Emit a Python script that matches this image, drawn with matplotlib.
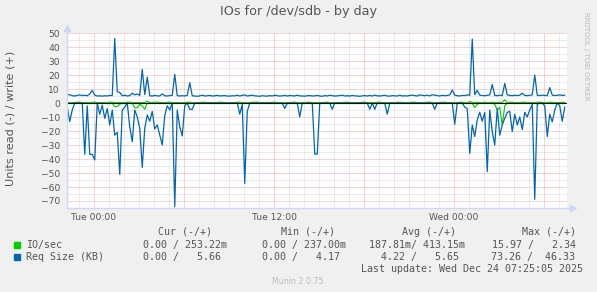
import numpy as np
import pandas as pd
import matplotlib.pyplot as plt

# muestras cada 10 minutos
times = pd.date_range("2025-12-22 22:13", periods=200, freq="10min")

# Req Size (KB) escritura (+)
write_size = [
    5.5, 6.0, 5.2, 5.0, 5.4, 5.8, 5.3, 5.5, 5.2, 6.5, 9.0, 5.6, 5.0, 5.1, 4.9, 5.2, 5.0, 5.4, 5.3, 46.0,
    8.0, 7.5, 5.2, 5.6, 5.0, 5.3, 7.0, 5.8, 6.5, 5.4, 24.0, 6.0, 18.5, 5.2, 5.0, 5.4, 5.1, 5.0, 6.5, 5.2,
    5.0, 5.3, 5.5, 20.5, 5.3, 5.0, 5.2, 5.1, 5.4, 14.5, 5.2, 5.0, 4.8, 5.1, 5.6, 5.0, 5.2, 5.4, 5.0, 5.1,
    5.5, 5.0, 5.2, 5.3, 5.0, 4.9, 5.2, 5.1, 5.6, 5.0, 5.4, 5.8, 5.0, 5.3, 5.6, 5.1, 5.0, 4.8, 5.2, 5.0,
    4.9, 5.3, 5.0, 5.6, 5.2, 5.0, 5.1, 5.4, 5.0, 5.3, 5.2, 5.0, 5.6, 5.1, 5.0, 4.9, 5.2, 5.3, 5.0, 5.1,
    5.4, 5.0, 4.8, 5.3, 5.0, 5.6, 5.2, 5.0, 5.1, 5.3, 5.6, 5.0, 5.2, 5.0, 5.4, 5.1, 5.0, 4.8, 5.1, 5.3,
    5.0, 5.4, 5.0, 5.6, 5.1, 5.0, 5.2, 5.5, 5.0, 4.9, 5.3, 5.1, 5.0, 5.6, 5.0, 5.2, 5.0, 5.4, 5.6, 5.3,
    5.0, 5.8, 5.5, 5.2, 5.6, 5.1, 5.9, 5.6, 5.3, 5.0, 5.5, 5.2, 5.4, 5.8, 9.3, 5.6, 5.2, 5.0, 5.4, 5.3,
    5.8, 5.5, 45.7, 6.0, 9.0, 5.6, 5.4, 5.2, 5.5, 5.8, 13.3, 5.4, 5.2, 5.6, 5.3, 14.0, 5.8, 5.4, 5.2, 5.5,
    5.3, 5.6, 7.0, 5.4, 5.2, 5.5, 5.8, 20.0, 5.5, 5.3, 5.6, 5.4, 5.2, 11.0, 5.6, 5.3, 5.5, 5.8, 5.4, 5.6,
]

# Req Size (KB) lectura (-)
read_size = [
    -3.0, -13.3, -5.0, 0, 0, 0, 0, -36.7, -2.0, -36.7, -36.7, -40.7, 0, -8.0, -1.5, -11.0, -4.0, -15.7, -5.0, -23.0,
    -21.0, -51.0, -5.0, -3.0, 0, -17.0, -27.6, -5.0, -10.0, -18.0, -46.0, -18.0, -8.6, -13.0, -6.0, -18.6, -15.7, -23.0, -30.0, -9.0,
    -2.0, -5.0, 0, -74.0, -5.0, -17.0, -23.6, -2.0, 0, -4.5, -4.5, 0, 0, 0, 0, 0, 0, 0, 0, 0,
    0, 0, 0, 0, 0, 0, 0, 0, 0, -8.0, -1.0, -57.4, -6.0, 0, 0, 0, 0, 0, 0, 0,
    0, 0, 0, 0, 0, 0, 0, -4.0, 0, 0, 0, 0, 0, -10.0, 0, 0, 0, 0, 0, -36.5,
    -36.5, 0, 0, 0, 0, 0, -4.5, 0, 0, 0, 0, 0, 0, 0, 0, 0, 0, 0, 0, 0,
    0, -4.5, 0, -4.5, 0, 0, 0, 0, -8.0, 0, 0, 0, 0, 0, 0, 0, 0, 0, 0, 0,
    0, 0, 0, 0, 0, 0, 0, -4.5, 0, 0, 0, 0, 0, 0, 0, -15.2, 0, 0, 0, -3.0,
    -4.0, -36.0, -15.7, -24.0, -12.0, -6.7, -13.0, -6.7, -49.0, -5.0, -20.5, -30.0, -4.0, -23.0, -15.7, -11.0, -6.7, -6.0, -20.5, -8.0,
    -15.7, -10.0, -19.0, -6.7, -10.0, -5.0, -1.0, -68.8, -1.0, 0, 0, -2.0, -24.0, -8.0, -13.5, -5.0, 0, -2.0, -13.0, -3.0,
]

# IO/sec escritura (+)
write_io = [
    0.3, 0.3, 0.25, 0.3, 0.55, 0.6, 0.3, 0.25, 0.3, 0.3, 0.55, 0.6, 0.3, 0.25, 0.3, 0.3, 0.25, 0.55, 0.6, 0.3,
    0.3, 0.25, 0.3, 0.3, 0.55, 0.6, 0.3, 0.25, 0.3, 0.3, 0.25, 0.3, 1.4, 0.3, 0.25, 0.55, 0.6, 0.3, 0.25, 0.3,
    0.55, 0.6, 0.3, 0.25, 0.3, 0.3, 0.25, 0.3, 0.55, 0.6, 0.3, 0.25, 0.3, 0.3, 0.55, 0.6, 0.25, 0.3, 0.3, 0.25,
    0.3, 0.55, 0.6, 0.3, 0.25, 0.3, 0.3, 0.25, 0.55, 0.6, 0.3, 0.25, 0.3, 0.3, 0.55, 0.6, 0.6, 0.3, 0.25, 0.3,
    0.3, 0.25, 0.55, 0.6, 0.3, 0.25, 0.3, 0.3, 0.25, 0.3, 0.55, 0.6, 0.3, 0.25, 0.3, 0.3, 0.55, 0.6, 0.3, 0.25,
    0.3, 0.3, 0.25, 0.55, 0.6, 0.3, 0.25, 0.3, 0.3, 0.25, 0.3, 0.55, 0.6, 0.3, 0.25, 0.3, 0.3, 0.25, 0.55, 0.6,
    0.3, 0.25, 0.3, 0.3, 0.55, 0.6, 0.3, 0.25, 0.3, 0.3, 0.25, 0.3, 0.55, 0.6, 0.3, 0.25, 0.3, 0.3, 0.55, 0.6,
    0.25, 0.3, 0.3, 0.25, 0.55, 0.6, 0.3, 0.25, 0.3, 0.3, 0.55, 0.6, 0.3, 0.25, 0.3, 0.3, 0.25, 0.55, 0.6, 0.3,
    0.3, 1.0, 0.5, 0.3, 0.6, 0.3, 0.25, 0.55, 0.3, 0.3, 0.6, 0.3, 0.25, 0.55, 0.3, 2.34, 0.3, 0.55, 0.6, 0.3,
    0.25, 0.3, 0.55, 0.6, 0.3, 0.25, 0.3, 0.3, 0.55, 0.6, 0.3, 0.25, 0.3, 0.55, 0.6, 0.3, 0.25, 0.3, 0.55, 0.3,
]

# IO/sec lectura (-)
read_io = [
    0, 0, 0, 0, 0, 0, 0, 0, 0, 0, 0, 0, 0, 0, 0, 0, 0, 0, 0, -2.6,
    -2.6, -1.0, 0, 0, 0, 0, 0, -3.4, -3.4, -1.0, -2.0, -4.5, 0, 0, 0, 0, 0, 0, 0, 0,
    0, 0, 0, 0, 0, 0, 0, 0, 0, 0, 0, 0, 0, 0, 0, 0, 0, 0, 0, 0,
    0, 0, 0, 0, 0, 0, 0, 0, 0, 0, 0, 0, 0, 0, 0, 0, 0, 0, 0, 0,
    0, 0, 0, 0, 0, 0, 0, 0, 0, 0, 0, 0, 0, 0, 0, 0, 0, 0, 0, 0,
    0, 0, 0, 0, 0, 0, 0, 0, 0, 0, 0, 0, 0, 0, 0, 0, 0, 0, 0, 0,
    0, 0, 0, 0, 0, 0, 0, 0, 0, 0, 0, 0, 0, 0, 0, 0, 0, 0, 0, 0,
    0, 0, 0, 0, 0, 0, 0, 0, 0, 0, 0, 0, 0, 0, 0, 0, 0, 0, 0, 0,
    0, 0, 0, -3.3, -1.0, 0, 0, 0, 0, 0, 0, -1.0, -5.0, -3.0, -15.97, -2.0, 0, 0, 0, 0,
    0, 0, 0, 0, 0, 0, 0, 0, 0, 0, 0, 0, 0, 0, 0, 0, 0, 0, 0, 0,
]

tick_times = ["2025-12-23 00:00", "2025-12-23 12:00", "2025-12-24 00:00"]
tick_labels = ["Tue 00:00", "Tue 12:00", "Wed 00:00"]

columnas = ["Cur (-/+)", "Min (-/+)", "Avg (-/+)", "Max (-/+)"]
io_vals = ["0.00 / 253.22m", "0.00 / 237.00m", "187.81m/ 413.15m", "15.97 /   2.34"]
size_vals = ["0.00 /   5.66", "0.00 /   4.17", "4.22 /   5.65", "73.26 /  46.33"]

verde = "#00CC00"
azul = "#0066B3"
gris = "#555555"
W, H = 597, 292


def px(x, y):
    return x / W, 1 - y / H


fig = plt.figure(figsize=(W / 100, H / 100), dpi=100, facecolor="#F0F0F0")
ax = fig.add_axes([67 / W, (H - 208) / H, 500 / W, 175 / H])
ax.set_facecolor("white")

t_ini = pd.Timestamp("2025-12-22 22:12")
t_fin = pd.Timestamp("2025-12-24 07:32")
ax.set_xlim(t_ini, t_fin)
ax.set_ylim(-75, 50)

# rejilla punteada
for h in pd.date_range("2025-12-22 23:00", "2025-12-24 07:00", freq="1h"):
    if h.hour % 6 == 0:
        ax.axvline(h, color="#F2A8A8", lw=0.72, ls=(0, (1, 1)), zorder=0.6)
    else:
        ax.axvline(h, color="#D9D9D9", lw=0.72, ls=(0, (1, 1)), zorder=0.5)
for v in range(-70, 51, 5):
    if v % 10 == 0:
        ax.axhline(v, color="#F2A8A8", lw=0.72, ls=(0, (1, 1)), zorder=0.6)
    else:
        ax.axhline(v, color="#D9D9D9", lw=0.72, ls=(0, (1, 1)), zorder=0.5)

ax.plot(times, read_io, color=verde, lw=0.8, zorder=2)
ax.plot(times, write_io, color=verde, lw=0.8, zorder=2)
ax.plot(times, read_size, color=azul, lw=0.9, zorder=3)
ax.plot(times, write_size, color=azul, lw=0.9, zorder=3)
ax.axhline(0, color="black", lw=0.8, zorder=4)

ax.set_xticks(pd.to_datetime(tick_times))
ax.set_xticklabels(tick_labels)
ax.set_yticks(range(-70, 51, 10))
ax.tick_params(axis="both", length=0, labelsize=6.6, colors=gris)
ax.tick_params(axis="y", pad=5)
ax.tick_params(axis="x", pad=3.5)
for s in ax.spines.values():
    s.set_visible(False)

# ejes con flechas
eje = "#CFD6F8"
ax.plot([0, 0], [0, 1.025], color=eje, lw=1, transform=ax.transAxes, clip_on=False, zorder=5)
ax.plot([0, 1.008], [0, 0], color=eje, lw=1, transform=ax.transAxes, clip_on=False, zorder=5)
ax.plot([0], [1.03], marker="^", ms=4, color=eje, transform=ax.transAxes, clip_on=False, zorder=5)
ax.plot([1.012], [0], marker=">", ms=4, color=eje, transform=ax.transAxes, clip_on=False, zorder=5)

fig.text(*px(298, 12), "IOs for /dev/sdb - by day", ha="center", va="center", fontsize=9.2, color=gris)
fig.text(*px(11, 118), "Units read (-) / write (+)", ha="center", va="center", rotation=90,
         fontsize=8.1, color=gris)
fig.text(*px(586, 56), "RRDTOOL / TOBI OETIKER", ha="center", va="center", rotation=270,
         fontsize=5, color="#BBBBBB")

mono = "DejaVu Sans Mono"
fs = 7.2
for txt, x in zip(columnas, [158, 280.7, 401.7, 522.5]):
    fig.text(*px(x, 232), txt, ha="left", va="center", fontsize=fs, family=mono, color=gris)

fig.patches.append(plt.Rectangle(px(14, 248), 6 / W, 6 / H, color=verde, transform=fig.transFigure))
fig.patches.append(plt.Rectangle(px(14, 260), 6 / W, 6 / H, color=azul, transform=fig.transFigure))
fig.text(*px(26, 245), "IO/sec", ha="left", va="center", fontsize=fs, family=mono, color=gris)
fig.text(*px(26, 257), "Req Size (KB)", ha="left", va="center", fontsize=fs, family=mono, color=gris)
for txt, x in zip(io_vals, [143, 261.6, 368.6, 492]):
    fig.text(*px(x, 245), txt, ha="left", va="center", fontsize=fs, family=mono, color=gris)
for txt, x in zip(size_vals, [143, 261.6, 380.8, 491]):
    fig.text(*px(x, 257), txt, ha="left", va="center", fontsize=fs, family=mono, color=gris)

fig.text(*px(582.6, 269), "Last update: Wed Dec 24 07:25:05 2025", ha="right", va="center",
         fontsize=fs, family=mono, color=gris)
fig.text(*px(298, 282), "Munin 2.0.75", ha="center", va="center", fontsize=5.7, color="#BBBBBB")

fig.savefig("out.png", dpi=100, facecolor=fig.get_facecolor())
